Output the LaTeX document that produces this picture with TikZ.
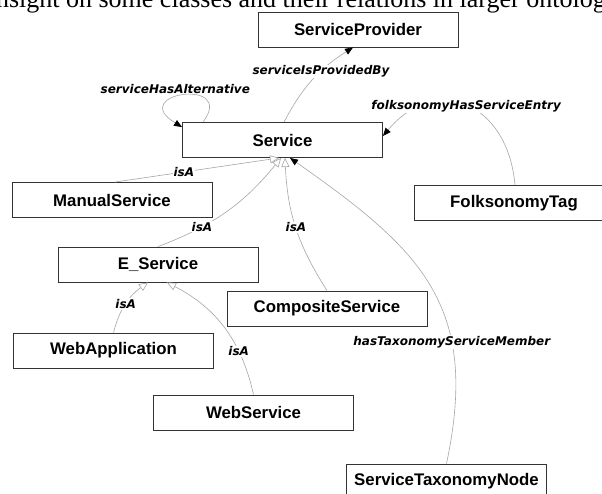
\documentclass[tikz,border=0pt]{standalone}
\usepackage{fontspec}
\setmainfont{Liberation Serif}
\setsansfont{Liberation Sans}
\newfontfamily\lblfont{DejaVu Sans}
\usetikzlibrary{arrows.meta}

\begin{document}
\begin{tikzpicture}[x=1pt,y=1pt,line width=0.6pt,
	cls/.style={draw=black!80,line width=0.9pt,fill=white,minimum width=200pt,minimum height=35pt,inner sep=0pt,font=\sffamily\bfseries\fontsize{16.8}{19}\selectfont},
	rel/.style={draw=black!35,line width=0.6pt},
	prop/.style={rel,-{Triangle[length=8pt,width=6.5pt,color=black]}},
	isa/.style={rel,-{Triangle[length=9pt,width=8pt,fill=white]}},
	lbl/.style={fill=white,inner sep=1pt,text=black,font=\lblfont\bfseries\itshape\fontsize{12}{13}\selectfont}]
\useasboundingbox (0,0) rectangle (602,-493);
\clip (0,0) rectangle (602,-493);

\node[anchor=base west,inner sep=0pt,font=\rmfamily\fontsize{26}{28}\selectfont] (head) at (-11.5,-7.5) {insight on some classes and their relations in larger ontology};

\node[cls] (prov) at (358,-29.5) {ServiceProvider};
\node[cls] (svc) at (282.5,-140) {Service};
\node[cls] (manual) at (112,-200) {ManualService};
\node[cls] (folk) at (514,-203) {FolksonomyTag};
\node[cls] (eserv) at (158,-264.5) {E\_Service};
\node[cls] (comp) at (327,-308.5) {CompositeService};
\node[cls] (webapp) at (113.5,-350.5) {WebApplication};
\node[cls] (websrv) at (253.5,-412.5) {WebService};
\node[cls] (taxo) at (446.5,-481.5) {ServiceTaxonomyNode};

\draw[prop] ([xshift=-79.5pt]svc.north) .. controls +(34,45) and +(-56,34) .. ([yshift=-5pt]svc.north west)
	node[lbl,pos=0.5,anchor=south,xshift=-9pt,fill=none] {serviceHasAlternative};
\draw[prop] ([xshift=1.5pt]svc.north) to[bend left=15] node[lbl,pos=0.62] {serviceIsProvidedBy} ([xshift=-5pt]prov.south);
\draw[prop] ([xshift=1pt]folk.north) to[out=95,in=50,looseness=1.5] node[lbl] {folksonomyHasServiceEntry} ([yshift=4pt]svc.east);
\draw[prop] (taxo.north) to[out=78,in=-35,looseness=1.2] node[lbl,pos=0.31] {hasTaxonomyServiceMember} ([xshift=7.5pt]svc.south);

\draw[isa] ([xshift=3pt]manual.north) -- node[lbl,pos=0.42] {isA} ([xshift=-3.5pt]svc.south);
\draw[isa] (eserv.north) to[bend right=15] node[lbl,pos=0.3] {isA} ([xshift=-1.5pt]svc.south);
\draw[isa] (comp.north) to[bend left=15] node[lbl] {isA} ([xshift=2.5pt]svc.south);
\draw[isa] (webapp.north) to[bend left=20] node[lbl] {isA} ([xshift=-10pt]eserv.south);
\draw[isa] (websrv.north) to[bend right=25] node[lbl,pos=0.3] {isA} ([xshift=9pt]eserv.south);

\end{tikzpicture}
\end{document}
